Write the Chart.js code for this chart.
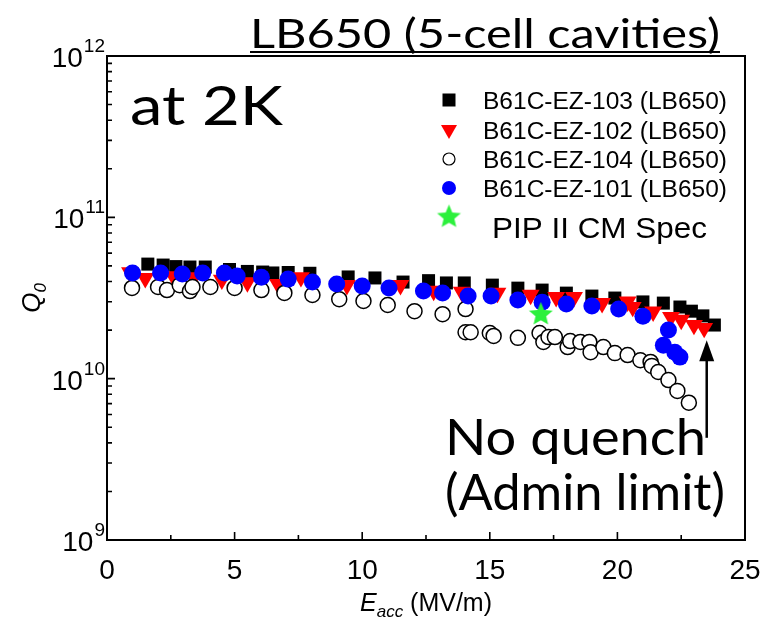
<!DOCTYPE html>
<html>
<head>
<meta charset="utf-8">
<script src="https://cdn.jsdelivr.net/npm/chart.js@4"></script>
<style>
  html, body { margin: 0; padding: 0; background: #fff; }
  #wrap { width: 763px; height: 622px; position: relative; }
</style>
</head>
<body>
<div id="wrap"><canvas id="q0-chart"></canvas></div>
<script>
// Q0 vs Eacc at 2 K, LB650 5-cell cavities (Q in units of 1e10)

// B61C-EZ-103
const ez103E = [1.6, 2.2, 2.7, 3.25, 3.85, 4.8, 5.5, 6.1, 6.5, 7.1, 7.95, 9.45, 10.5, 11.6, 12.6, 13.3, 14.0, 15.1, 16.1, 17.05, 18.0, 19.0, 19.9, 21.0, 21.8, 22.45, 22.9, 23.35, 23.8];
const ez103Q = [5.13, 5.06, 4.95, 4.92, 4.92, 4.75, 4.62, 4.58, 4.52, 4.55, 4.5, 4.27, 4.21, 3.97, 4.05, 3.92, 3.92, 3.80, 3.64, 3.54, 3.39, 3.25, 3.16, 2.99, 2.94, 2.78, 2.62, 2.45, 2.15];

// B61C-EZ-102
const ez102E = [0.9, 1.5, 2.6, 3.4, 4.5, 5.5, 6.7, 7.6, 9.4, 11.5, 12.8, 13.9, 15.3, 16.6, 17.6, 18.3, 19.4, 20.4, 20.6, 21.4, 22.1, 22.5, 23.0, 23.4];
const ez102Q = [4.55, 4.2, 4.3, 4.25, 4.1, 3.95, 3.85, 4.25, 3.8, 3.8, 3.5, 3.45, 3.4, 3.3, 3.2, 3.2, 2.94, 3.0, 2.78, 2.6, 2.41, 2.31, 2.15, 2.06];

// B61C-EZ-104
const ez104E = [0.98, 2.0, 2.35, 2.85, 3.25, 3.35, 4.05, 5.0, 6.05, 6.95, 8.05, 9.1, 10.05, 11.0, 12.05, 13.15, 14.05, 14.05, 14.25, 15.0, 15.15, 16.1, 16.95, 17.1, 17.3, 17.55, 18.05, 18.15, 18.55, 18.9, 18.95, 19.45, 19.9, 20.4, 20.9, 21.3, 21.35, 21.6, 22.0, 22.35, 22.8];
const ez104Q = [3.65, 3.70, 3.54, 3.80, 3.49, 3.70, 3.70, 3.65, 3.54, 3.40, 3.30, 3.11, 3.03, 2.86, 2.62, 2.51, 2.70, 1.94, 1.94, 1.92, 1.84, 1.79, 1.92, 1.69, 1.81, 1.81, 1.57, 1.71, 1.69, 1.69, 1.46, 1.57, 1.44, 1.40, 1.30, 1.27, 1.20, 1.10, 0.98, 0.84, 0.71];

// B61C-EZ-101
const ez101E = [1.0, 2.1, 2.95, 3.75, 4.6, 5.1, 6.05, 7.1, 8.05, 9.0, 10.0, 11.05, 12.4, 13.15, 14.15, 15.05, 16.1, 17.05, 18.0, 19.0, 20.05, 21.0, 22.0, 21.8, 22.25, 22.45];
const ez101Q = [4.52, 4.52, 4.45, 4.52, 4.52, 4.33, 4.25, 4.14, 3.97, 3.86, 3.75, 3.65, 3.49, 3.40, 3.25, 3.25, 3.07, 2.98, 2.90, 2.82, 2.70, 2.44, 2.0, 1.61, 1.46, 1.36];

// PIP-II cryomodule spec
const specE = [17.0];
const specQ = [2.5];

const seriesNames = ['B61C-EZ-103 (LB650)', 'B61C-EZ-102 (LB650)', 'B61C-EZ-104 (LB650)', 'B61C-EZ-101 (LB650)', 'PIP II CM Spec'];

// axis ticks
const xMajor = [0, 5, 10, 15, 20, 25];
const xMinor = [2.5, 7.5, 12.5, 17.5, 22.5];
const yDecades = [9, 10, 11, 12];

// "no quench" arrow: E position and Q range (1e10 units)
const arrowE = 23.5;
const arrowQ = [0.43, 1.73];

const pts = (xs, ys) => xs.map((x, i) => ({ x, y: ys[i] * 1e10 }));

function starCanvas(r, color) {
  const c = document.createElement('canvas');
  c.width = c.height = Math.ceil(r * 2 + 2);
  const g = c.getContext('2d');
  const cx = c.width / 2, cy = c.height / 2;
  g.fillStyle = color;
  g.beginPath();
  for (let i = 0; i < 10; i++) {
    const rr = i % 2 ? r * 0.45 : r;
    const a = -Math.PI / 2 + i * Math.PI / 5;
    g.lineTo(cx + rr * Math.cos(a), cy + rr * Math.sin(a));
  }
  g.closePath();
  g.fill();
  return c;
}

const GREEN = '#2cf03c';
const SANS = '"Liberation Sans", Arial, sans-serif';
const CAL = 'Lato, "Open Sans", sans-serif';

// text squeezed/stretched to a given width
function fitText(ctx, text, left, baseline, width, size, family, weight) {
  ctx.save();
  ctx.font = (weight || '') + ' ' + size + 'px ' + family;
  const w = ctx.measureText(text).width;
  ctx.translate(left, baseline);
  ctx.scale(width / w, 1);
  ctx.textAlign = 'left';
  ctx.textBaseline = 'alphabetic';
  ctx.fillText(text, 0, 0);
  ctx.restore();
}

const decor = {
  id: 'decor',
  beforeDatasetsDraw(chart) {
    const { ctx, chartArea: a, scales: { x, y } } = chart;
    ctx.save();
    ctx.strokeStyle = '#000';
    ctx.fillStyle = '#000';

    // frame
    ctx.lineWidth = 2;
    ctx.strokeRect(a.left, a.top, a.right - a.left, a.bottom - a.top);

    // inward ticks
    ctx.lineWidth = 1.6;
    ctx.beginPath();
    xMajor.forEach(v => { const p = x.getPixelForValue(v); ctx.moveTo(p, a.bottom); ctx.lineTo(p, a.bottom - 8); });
    xMinor.forEach(v => { const p = x.getPixelForValue(v); ctx.moveTo(p, a.bottom); ctx.lineTo(p, a.bottom - 5); });
    yDecades.forEach(d => {
      const p = y.getPixelForValue(Math.pow(10, d));
      ctx.moveTo(a.left, p); ctx.lineTo(a.left + 8, p);
      if (d < 12) {
        for (let m = 2; m <= 9; m++) {
          const q = y.getPixelForValue(m * Math.pow(10, d));
          ctx.moveTo(a.left, q); ctx.lineTo(a.left + 5, q);
        }
      }
    });
    ctx.stroke();

    // x tick labels
    ctx.font = '28px ' + SANS;
    ctx.textAlign = 'center';
    ctx.textBaseline = 'alphabetic';
    xMajor.forEach(v => ctx.fillText(String(v), x.getPixelForValue(v), a.bottom + 39));

    // y tick labels: 10 with superscript exponent
    yDecades.forEach(d => {
      const p = y.getPixelForValue(Math.pow(10, d));
      ctx.font = '19px ' + SANS;
      ctx.textAlign = 'right';
      const sup = String(d);
      const sw = ctx.measureText(sup).width;
      ctx.fillText(sup, a.left - 2, p - 4);
      ctx.font = '28px ' + SANS;
      ctx.fillText('10', a.left - 2 - sw - 1, p + 11);
    });

    // axis titles
    ctx.textAlign = 'left';
    ctx.font = 'italic 25px ' + SANS;
    const e = 'E';
    const ew = ctx.measureText(e).width;
    ctx.font = 'italic 17px ' + SANS;
    const sub = 'acc';
    const subw = ctx.measureText(sub).width;
    ctx.font = '25px ' + SANS;
    const rest = ' (MV/m)';
    const rw = ctx.measureText(rest).width;
    let tx = (a.left + a.right) / 2 - (ew + subw + rw) / 2;
    const ty = 611;
    ctx.font = 'italic 25px ' + SANS; ctx.fillText(e, tx, ty); tx += ew;
    ctx.font = 'italic 17px ' + SANS; ctx.fillText(sub, tx, ty + 6); tx += subw;
    ctx.font = '25px ' + SANS; ctx.fillText(rest, tx, ty);

    ctx.save();
    ctx.translate(40, (a.top + a.bottom) / 2);
    ctx.rotate(-Math.PI / 2);
    ctx.font = 'italic 26px ' + SANS;
    const qw = ctx.measureText('Q').width;
    ctx.font = 'italic 17px ' + SANS;
    const zw = ctx.measureText('0').width;
    ctx.font = 'italic 26px ' + SANS;
    ctx.fillText('Q', -(qw + zw) / 2, 0);
    ctx.font = 'italic 17px ' + SANS;
    ctx.fillText('0', -(qw + zw) / 2 + qw, 6);
    ctx.restore();

    ctx.restore();
  },
  afterDatasetsDraw(chart) {
    const { ctx, scales: { x, y } } = chart;
    ctx.save();
    ctx.fillStyle = '#000';
    ctx.strokeStyle = '#000';

    // title with underline
    fitText(ctx, 'LB650 (5-cell cavities)', 250, 48, 470, 40, CAL);
    ctx.fillRect(250, 51, 470, 2);

    fitText(ctx, 'at 2K', 130, 125, 153, 54, CAL);
    fitText(ctx, 'No quench', 445, 455, 261, 50, CAL);
    fitText(ctx, '(Admin limit)', 445, 510, 280, 50, CAL);

    // legend
    const lx = 449;
    const rows = [100, 130, 159, 188, 217];
    ctx.fillRect(lx - 6.5, rows[0] - 6.5, 13, 13);
    ctx.fillStyle = '#ff0000';
    ctx.beginPath();
    ctx.moveTo(lx - 8, rows[1] - 5); ctx.lineTo(lx + 8, rows[1] - 5); ctx.lineTo(lx, rows[1] + 9);
    ctx.closePath(); ctx.fill();
    ctx.lineWidth = 1.2;
    ctx.beginPath(); ctx.arc(lx, rows[2], 6, 0, Math.PI * 2); ctx.stroke();
    ctx.fillStyle = '#0000ff';
    ctx.beginPath(); ctx.arc(lx, rows[3], 7, 0, Math.PI * 2); ctx.fill();
    const st = starCanvas(12.5, GREEN);
    ctx.drawImage(st, lx - st.width / 2, rows[4] - st.height / 2);

    ctx.fillStyle = '#000';
    for (let i = 0; i < 4; i++) fitText(ctx, seriesNames[i], 483, rows[i] + 8.5, 244, 23, SANS);
    fitText(ctx, seriesNames[4], 492, 238, 215, 30, SANS);

    // arrow
    const ax = x.getPixelForValue(arrowE);
    const y0 = y.getPixelForValue(arrowQ[0] * 1e10);
    const y1 = y.getPixelForValue(arrowQ[1] * 1e10);
    ctx.lineWidth = 2.5;
    ctx.beginPath(); ctx.moveTo(ax, y0); ctx.lineTo(ax, y1 + 18); ctx.stroke();
    ctx.beginPath();
    ctx.moveTo(ax, y1); ctx.lineTo(ax - 7.5, y1 + 21); ctx.lineTo(ax + 7.5, y1 + 21);
    ctx.closePath(); ctx.fill();

    ctx.restore();
  }
};

new Chart(document.getElementById('q0-chart'), {
  type: 'scatter',
  data: {
    datasets: [
      {
        label: seriesNames[4], data: pts(specE, specQ), order: 0,
        pointStyle: starCanvas(12.5, GREEN), pointRadius: 12,
      },
      {
        label: seriesNames[3], data: pts(ez101E, ez101Q), order: 1,
        pointStyle: 'circle', pointRadius: 8.5, backgroundColor: '#0000ff', borderColor: '#0000ff', borderWidth: 0,
      },
      {
        label: seriesNames[2], data: pts(ez104E, ez104Q), order: 2,
        pointStyle: 'circle', pointRadius: 7.5, backgroundColor: '#ffffff', borderColor: '#000000', borderWidth: 1.5,
      },
      {
        label: seriesNames[1], data: pts(ez102E, ez102Q), order: 3,
        pointStyle: 'triangle', pointRotation: 180, pointRadius: 10.3, backgroundColor: '#ff0000', borderColor: '#ff0000', borderWidth: 0,
      },
      {
        label: seriesNames[0], data: pts(ez103E, ez103Q), order: 4,
        pointStyle: 'rect', pointRadius: 9.2, backgroundColor: '#000000', borderColor: '#000000', borderWidth: 0,
      },
    ],
  },
  options: {
    responsive: true, maintainAspectRatio: false, animation: false,
    layout: { padding: { left: 107, right: 18, top: 56, bottom: 82 } },
    plugins: { legend: { display: false }, tooltip: { enabled: false } },
    elements: { point: { hoverRadius: 0 } },
    scales: {
      x: { type: 'linear', min: 0, max: 25, display: false },
      y: { type: 'logarithmic', min: 1e9, max: 1e12, display: false },
    },
  },
  plugins: [decor],
});
</script>
</body>
</html>
